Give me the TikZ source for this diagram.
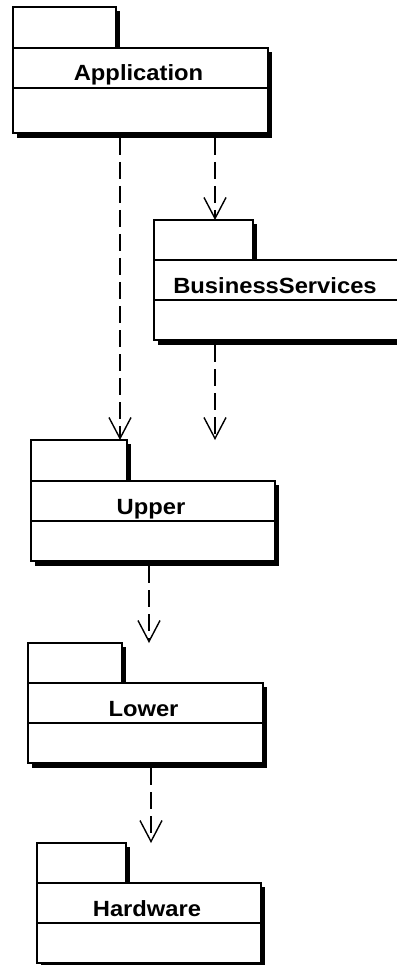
\documentclass[tikz,border=0pt]{standalone}
\usepackage{fontspec}
\setmainfont{Liberation Sans}
\newfontfamily\pkgfont{Liberation Sans}[FakeStretch=1.08]
\usetikzlibrary{arrows.meta,calc}
\tikzset{
  pkgbox/.style={draw=black, fill=white, line width=1.4pt, inner sep=0pt, outer sep=0pt, rectangle},
  pkgshadow/.style={fill=black},
  pkglabel/.style={inner sep=0pt, anchor=base, font=\pkgfont\fontsize{22}{22}\selectfont\bfseries},
  dep/.style={draw=black, line width=1.4pt, dash pattern=on 17pt off 7pt,
    -{Straight Barb[length=21pt, width=22pt, line width=1.4pt]}}
}
% #1 name, #2 tab left, #3 tab right, #4 tab top, #5 body top, #6 body right, #7 body bottom, #8 label
\newcommand\umlpkg[8]{%
  \fill[pkgshadow] (#3,#4+4) rectangle (#3+4,#5+4);
  \fill[pkgshadow] (#6,#5+4) rectangle (#6+4,#7+4);
  \fill[pkgshadow] (#2+4,#7) rectangle (#6+4,#7+5);
  \node[pkgbox, anchor=north west, minimum width={#3-#2}, minimum height={#5-#4}] (#1tab) at (#2,#4) {};
  \node[pkgbox, anchor=north west, minimum width={#6-#2}, minimum height={#7-#5}] (#1) at (#2,#5) {};
  \draw[line width=1.4pt] (#1.west |- 0,#5+40) -- (#1.east |- 0,#5+40);
  \node[pkglabel] (#1name) at ({(#2+#6)/2-2},#5+33) {#8};
}
\begin{document}
\begin{tikzpicture}[x=1pt,y=-1pt]
\useasboundingbox (0,0) rectangle (396,965);
\umlpkg{app}{13}{116}{7}{48}{268}{133}{Application}
\umlpkg{bs}{154}{253}{220}{260}{400}{340}{BusinessServices}
\umlpkg{upper}{31}{127}{440}{481}{275}{561}{Upper}
\umlpkg{lower}{28}{122}{643}{683}{263}{763}{Lower}
\umlpkg{hw}{37}{126}{843}{883}{261}{963}{Hardware}
\coordinate (bsend) at (215,440);
\draw[dep] ([yshift=-5pt]215,0 |- app.south) -- (215,0 |- bstab.north);
\draw[dep] ([yshift=-5pt]120,0 |- app.south) -- (120,0 |- uppertab.north);
\draw[dep] ([yshift=-5pt]215,0 |- bs.south) -- (bsend);
\draw[dep] ([yshift=-5pt]149,0 |- upper.south) -- (149,0 |- lowertab.north);
\draw[dep] ([yshift=-5pt]151,0 |- lower.south) -- (151,0 |- hwtab.north);
\end{tikzpicture}
\end{document}
